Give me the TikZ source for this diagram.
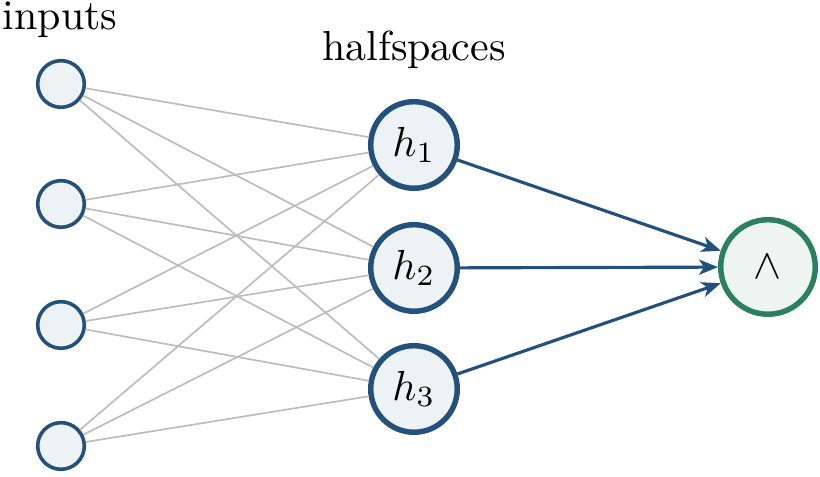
\documentclass[tikz,border=0pt]{standalone}
\usetikzlibrary{arrows.meta}
\definecolor{nblue}{RGB}{36,80,124}
\definecolor{nfill}{RGB}{237,242,245}
\definecolor{ngreen}{RGB}{42,128,96}
\definecolor{gfill}{RGB}{238,244,241}
\definecolor{lgray}{RGB}{188,188,188}
\begin{document}
\begin{tikzpicture}[x=0.238pt,y=-0.238pt,
  inp/.style={circle,draw=nblue,fill=nfill,line width=0.85pt,minimum size=11.1pt,inner sep=0pt},
  hid/.style={circle,draw=nblue,fill=nfill,line width=1.3pt,minimum size=20.6pt,inner sep=0pt},
  outn/.style={circle,draw=ngreen,fill=gfill,line width=1.3pt,minimum size=22.5pt,inner sep=0pt},
  conn/.style={draw=lgray,line width=0.4pt},
  arr/.style={draw=nblue,line width=0.75pt,-{Stealth[length=4.5pt,width=3.6pt,inset=1.2pt]}}]
\useasboundingbox (0,0) rectangle (820,477);
\node[inp] (i1) at (61,84) {};
\node[inp] (i2) at (61,204) {};
\node[inp] (i3) at (61,325) {};
\node[inp] (i4) at (61,446) {};
\node[hid] (h1) at (414,145) {$h_1$};
\node[hid] (h2) at (414,268) {$h_2$};
\node[hid] (h3) at (414,389) {$h_3$};
\node[outn] (a) at (768,267) {$\wedge$};
\node (tin) at (60,20) {inputs};
\node (thf) at (414,50) {halfspaces};
\foreach \i in {1,...,4}{
  \foreach \j in {1,2,3}{
    \path[conn] (i\i) -- (h\j);
  }
}
\draw[arr] (h1) -- (a);
\draw[arr] (h2) -- (a);
\draw[arr] (h3) -- (a);
\end{tikzpicture}
\end{document}
